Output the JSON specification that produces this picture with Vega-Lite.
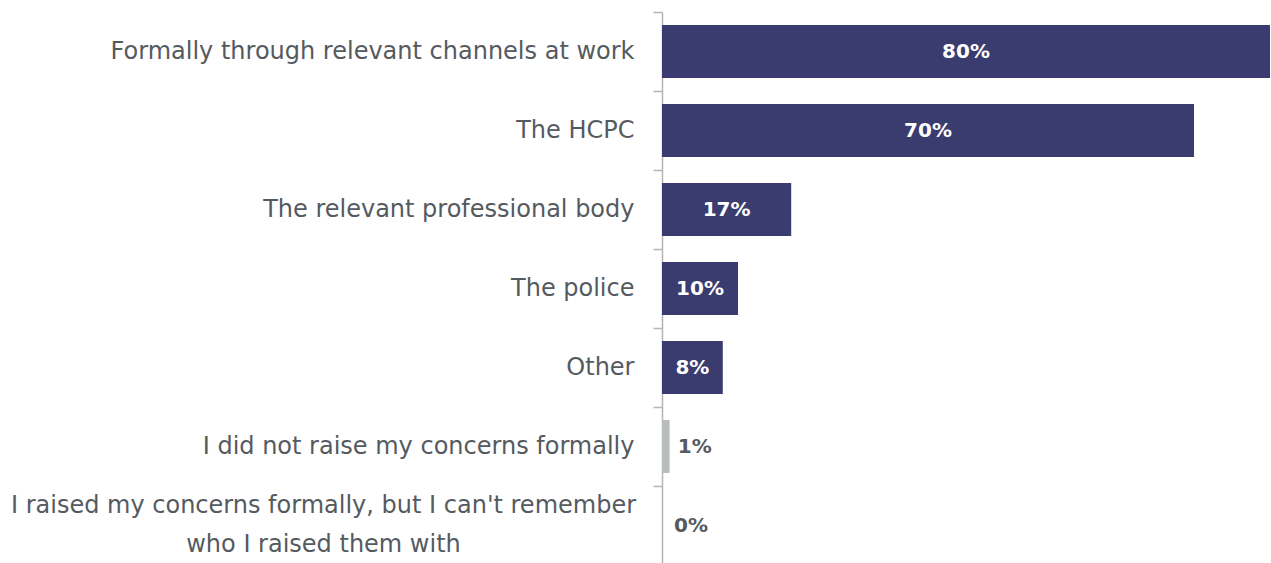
{
  "$schema": "https://vega.github.io/schema/vega-lite/v6.json",
  "autosize": "none",
  "padding": {"left": 662, "top": 12, "right": 1, "bottom": 0},
  "width": 608,
  "height": 553,
  "background": "white",
  "config": {"view": {"stroke": null}},
  "data": {
    "values": [
      {"label": "Formally through relevant channels at work", "share": 0.80, "group": "raised"},
      {"label": "The HCPC", "share": 0.70, "group": "raised"},
      {"label": "The relevant professional body", "share": 0.17, "group": "raised"},
      {"label": "The police", "share": 0.10, "group": "raised"},
      {"label": "Other", "share": 0.08, "group": "raised"},
      {"label": "I did not raise my concerns formally", "share": 0.01, "group": "not"},
      {"label": "I raised my concerns formally, but I can't remember\nwho I raised them with", "share": 0.0, "group": "raised"}
    ]
  },
  "encoding": {
    "y": {
      "field": "label",
      "type": "nominal",
      "sort": null,
      "scale": {"paddingInner": 0.33, "paddingOuter": 0.165},
      "axis": {
        "title": null,
        "domainColor": "#b5b5b5",
        "domainWidth": 1.5,
        "tickColor": "#b5b5b5",
        "tickWidth": 1.5,
        "tickSize": 9,
        "bandPosition": 0.5,
        "tickOffset": -39.5,
        "labelFont": "DejaVu Sans",
        "labelFontSize": 24,
        "labelColor": "#555a5f",
        "labelLimit": 700,
        "labelLineHeight": 39,
        "labelExpr": "split(datum.label, '\\n')",
        "labelAlign": {"condition": {"test": "indexof(datum.label, 'remember') >= 0", "value": "center"}, "value": "right"},
        "labelPadding": {"condition": {"test": "indexof(datum.label, 'remember') >= 0", "value": 330}, "value": 19},
        "labelOffset": {"condition": {"test": "indexof(datum.label, 'remember') >= 0", "value": 19.5}, "value": 39.5}
      }
    }
  },
  "layer": [
    {
      "mark": {"type": "bar"},
      "encoding": {
        "x": {"field": "share", "type": "quantitative", "scale": {"domain": [0, 0.8], "nice": false}, "axis": null},
        "color": {
          "field": "group",
          "type": "nominal",
          "scale": {"domain": ["raised", "not"], "range": ["#3a3b6e", "#b9bcbc"]},
          "legend": null
        }
      }
    },
    {
      "transform": [{"filter": "datum.share >= 0.05"}],
      "mark": {"type": "text", "font": "DejaVu Sans", "fontWeight": "bold", "fontSize": 20, "color": "white", "align": "center", "baseline": "middle"},
      "encoding": {
        "x": {"field": "share", "type": "quantitative", "scale": {"domain": [0, 1.6], "nice": false}, "axis": null},
        "text": {"field": "share", "type": "quantitative", "format": ".0%"}
      }
    },
    {
      "transform": [{"filter": "datum.share < 0.05"}],
      "mark": {"type": "text", "font": "DejaVu Sans", "fontWeight": "bold", "fontSize": 20, "color": "#555a5f", "align": "left", "baseline": "middle", "dx": 12},
      "encoding": {
        "x": {"field": "share", "type": "quantitative", "scale": {"domain": [0, 1.6], "nice": false}, "axis": null},
        "text": {"field": "share", "type": "quantitative", "format": ".0%"}
      }
    }
  ],
  "resolve": {"scale": {"x": "independent", "color": "independent"}}
}
